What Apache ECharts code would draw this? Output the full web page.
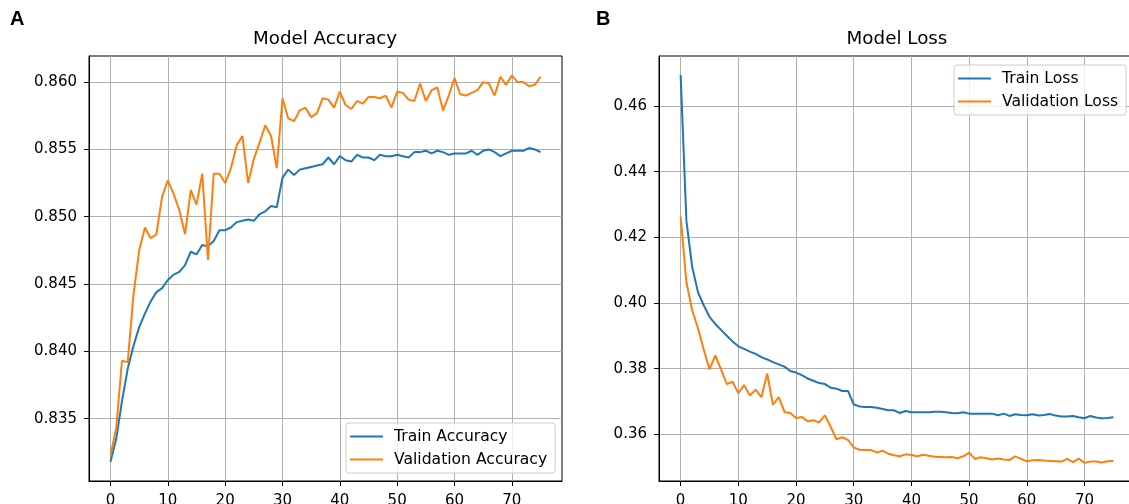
<!DOCTYPE html>
<html>
<head>
<meta charset="utf-8">
<script src="https://cdn.jsdelivr.net/npm/echarts@6/dist/echarts.min.js"></script>
<style>
html,body{margin:0;padding:0;background:#fff;}
#chart{width:1129px;height:504px;}
</style>
</head>
<body>
<div id="chart"></div>
<script>
var xTicks = [0, 10, 20, 30, 40, 50, 60, 70];
var accTicks = [0.835, 0.840, 0.845, 0.850, 0.855, 0.860];
var lossTicks = [0.36, 0.38, 0.40, 0.42, 0.44, 0.46];

var trainAcc = [0.8318, 0.8335, 0.8363, 0.8387, 0.8404, 0.8418, 0.8428, 0.8437, 0.8444, 0.8447,
  0.8453, 0.8457, 0.8459, 0.8464, 0.8474, 0.8472, 0.8479, 0.8478, 0.8482, 0.8490,
  0.8490, 0.8492, 0.8496, 0.8497, 0.8498, 0.8497, 0.8502, 0.8504, 0.8508, 0.8507,
  0.8529, 0.8535, 0.8531, 0.8535, 0.8536, 0.8537, 0.8538, 0.8539, 0.8544, 0.8539,
  0.8545, 0.8542, 0.8541, 0.8546, 0.8544, 0.8544, 0.8542, 0.8546, 0.8545, 0.8545,
  0.8546, 0.8545, 0.8544, 0.8548, 0.8548, 0.8549, 0.8547, 0.8549, 0.8548, 0.8546,
  0.8547, 0.8547, 0.8547, 0.8549, 0.8546, 0.8549, 0.8550, 0.8548, 0.8545, 0.8547,
  0.8549, 0.8549, 0.8549, 0.8551, 0.8550, 0.8548];

var valAcc = [0.8323, 0.8343, 0.8393, 0.8392, 0.8442, 0.8475, 0.8492, 0.8484, 0.8487, 0.8515,
  0.8527, 0.8517, 0.8505, 0.8487, 0.8520, 0.8509, 0.8532, 0.8468, 0.8532, 0.8532,
  0.8525, 0.8536, 0.8553, 0.8560, 0.8525, 0.8543, 0.8555, 0.8568, 0.8560, 0.8536,
  0.8588, 0.8573, 0.8571, 0.8579, 0.8581, 0.8574, 0.8577, 0.8588, 0.8587, 0.8581,
  0.8593, 0.8583, 0.8580, 0.8586, 0.8584, 0.8589, 0.8589, 0.8588, 0.8590, 0.8581,
  0.8593, 0.8592, 0.8587, 0.8586, 0.8599, 0.8586, 0.8594, 0.8596, 0.8579, 0.8590,
  0.8603, 0.8591, 0.8590, 0.8592, 0.8594, 0.8600, 0.8599, 0.8590, 0.8604, 0.8598,
  0.8605, 0.8600, 0.8600, 0.8597, 0.8598, 0.8604];

var trainLoss = [0.4694, 0.4250, 0.4110, 0.4033, 0.3993, 0.3958, 0.3936, 0.3918, 0.3900, 0.3883,
  0.3868, 0.3860, 0.3852, 0.3845, 0.3835, 0.3828, 0.3820, 0.3813, 0.3806, 0.3793,
  0.3788, 0.3780, 0.3770, 0.3763, 0.3756, 0.3753, 0.3742, 0.3739, 0.3732, 0.3732,
  0.3691, 0.3685, 0.3683, 0.3683, 0.3681, 0.3677, 0.3673, 0.3673, 0.3665, 0.3671,
  0.3667, 0.3667, 0.3667, 0.3667, 0.3669, 0.3669, 0.3667, 0.3665, 0.3664, 0.3667,
  0.3663, 0.3663, 0.3663, 0.3663, 0.3663, 0.3658, 0.3663, 0.3656, 0.3661, 0.3659,
  0.3658, 0.3661, 0.3657, 0.3659, 0.3662, 0.3657, 0.3654, 0.3654, 0.3656, 0.3652,
  0.3649, 0.3656, 0.3651, 0.3649, 0.3650, 0.3652];

var valLoss = [0.4263, 0.4063, 0.3978, 0.3923, 0.3858, 0.3798, 0.3840, 0.3798, 0.3753, 0.3760,
  0.3725, 0.3750, 0.3718, 0.3736, 0.3713, 0.3785, 0.3690, 0.3713, 0.3668, 0.3665,
  0.3650, 0.3653, 0.3640, 0.3643, 0.3636, 0.3658, 0.3623, 0.3585, 0.3591, 0.3583,
  0.3560, 0.3553, 0.3552, 0.3552, 0.3545, 0.3550, 0.3541, 0.3536, 0.3533, 0.3539,
  0.3537, 0.3533, 0.3538, 0.3535, 0.3532, 0.3531, 0.3530, 0.3531, 0.3527, 0.3533,
  0.3544, 0.3525, 0.3530, 0.3527, 0.3523, 0.3526, 0.3523, 0.3522, 0.3533, 0.3525,
  0.3518, 0.3521, 0.3522, 0.3520, 0.3519, 0.3518, 0.3517, 0.3525, 0.3515, 0.3526,
  0.3513, 0.3517, 0.3517, 0.3514, 0.3518, 0.3519];

function pairs(arr) { return arr.map(function (v, i) { return [i, v]; }); }

var FONT = 'DejaVu Sans';
var BLUE = '#1f77b4', ORANGE = '#ff7f0e';

function xAxis(gi) {
  return {
    type: 'value', gridIndex: gi, min: -3.75, max: 78.75,
    axisLine: { show: true, onZero: false, lineStyle: { color: '#000', width: 1 } },
    axisTick: { show: true, inside: false, length: 5, customValues: xTicks, lineStyle: { color: '#000', width: 1 } },
    axisLabel: { show: true, customValues: xTicks, margin: 13, fontFamily: FONT, fontSize: 15, color: '#000' },
    splitLine: { show: true, lineStyle: { color: '#b0b0b0', width: 1 } }
  };
}
function yAxis(gi, min, max, ticks, dec) {
  return {
    type: 'value', gridIndex: gi, min: min, max: max,
    axisLine: { show: true, onZero: false, lineStyle: { color: '#000', width: 1 } },
    axisTick: { show: true, inside: false, length: 5, customValues: ticks, lineStyle: { color: '#000', width: 1 } },
    axisLabel: { show: true, customValues: ticks, margin: 12, fontFamily: FONT, fontSize: 15, color: '#000',
      formatter: function (v) { return v.toFixed(dec); } },
    splitLine: { show: true, lineStyle: { color: '#b0b0b0', width: 1 } }
  };
}
function legend(left, top, names) {
  return {
    orient: 'vertical', left: left, top: top, data: names,
    icon: 'rect', itemWidth: 33, itemHeight: 2, itemGap: 6,
    padding: [5, 8, 5, 4],
    backgroundColor: 'rgba(255,255,255,0.8)', borderColor: '#cccccc', borderWidth: 1, borderRadius: 3,
    textStyle: { fontFamily: FONT, fontSize: 15.6, color: '#000', lineHeight: 17, padding: [0, 0, 0, 6] },
    selectedMode: false
  };
}
function line(name, data, color, gi) {
  return {
    name: name, type: 'line', xAxisIndex: gi, yAxisIndex: gi, data: pairs(data),
    showSymbol: false, symbol: 'none', lineStyle: { color: color, width: 2 }, itemStyle: { color: color },
    animation: false, silent: true
  };
}

var chart = echarts.init(document.getElementById('chart'), null, { renderer: 'canvas' });
chart.setOption({
  animation: false,
  backgroundColor: '#fff',
  title: [
    { text: 'A', left: 10, top: 9, padding: 0, textStyle: { fontFamily: 'Liberation Sans', fontWeight: 'bold', fontSize: 20, color: '#000' } },
    { text: 'B', left: 596, top: 9, padding: 0, textStyle: { fontFamily: 'Liberation Sans', fontWeight: 'bold', fontSize: 20, color: '#000' } },
    { text: 'Model Accuracy', left: 325, top: 30, padding: 0, textAlign: 'center', textStyle: { fontFamily: FONT, fontWeight: 'normal', fontSize: 18.3, color: '#000' } },
    { text: 'Model Loss', left: 897, top: 30, padding: 0, textAlign: 'center', textStyle: { fontFamily: FONT, fontWeight: 'normal', fontSize: 18.3, color: '#000' } }
  ],
  grid: [
    { left: 89, top: 56, width: 473, height: 425, outerBoundsMode: 'none', containLabel: false, show: true, borderColor: '#000', borderWidth: 1, backgroundColor: 'transparent' },
    { left: 659, top: 56, width: 476, height: 425, outerBoundsMode: 'none', containLabel: false, show: true, borderColor: '#000', borderWidth: 1, backgroundColor: 'transparent' }
  ],
  xAxis: [xAxis(0), xAxis(1)],
  yAxis: [yAxis(0, 0.83037, 0.86194, accTicks, 3), yAxis(1, 0.34578, 0.47522, lossTicks, 2)],
  legend: [
    legend(346, 423, ['Train Accuracy', 'Validation Accuracy']),
    legend(954, 65, ['Train Loss', 'Validation Loss'])
  ],
  series: [
    line('Train Accuracy', trainAcc, BLUE, 0),
    line('Validation Accuracy', valAcc, ORANGE, 0),
    line('Train Loss', trainLoss, BLUE, 1),
    line('Validation Loss', valLoss, ORANGE, 1)
  ]
});
</script>
</body>
</html>
